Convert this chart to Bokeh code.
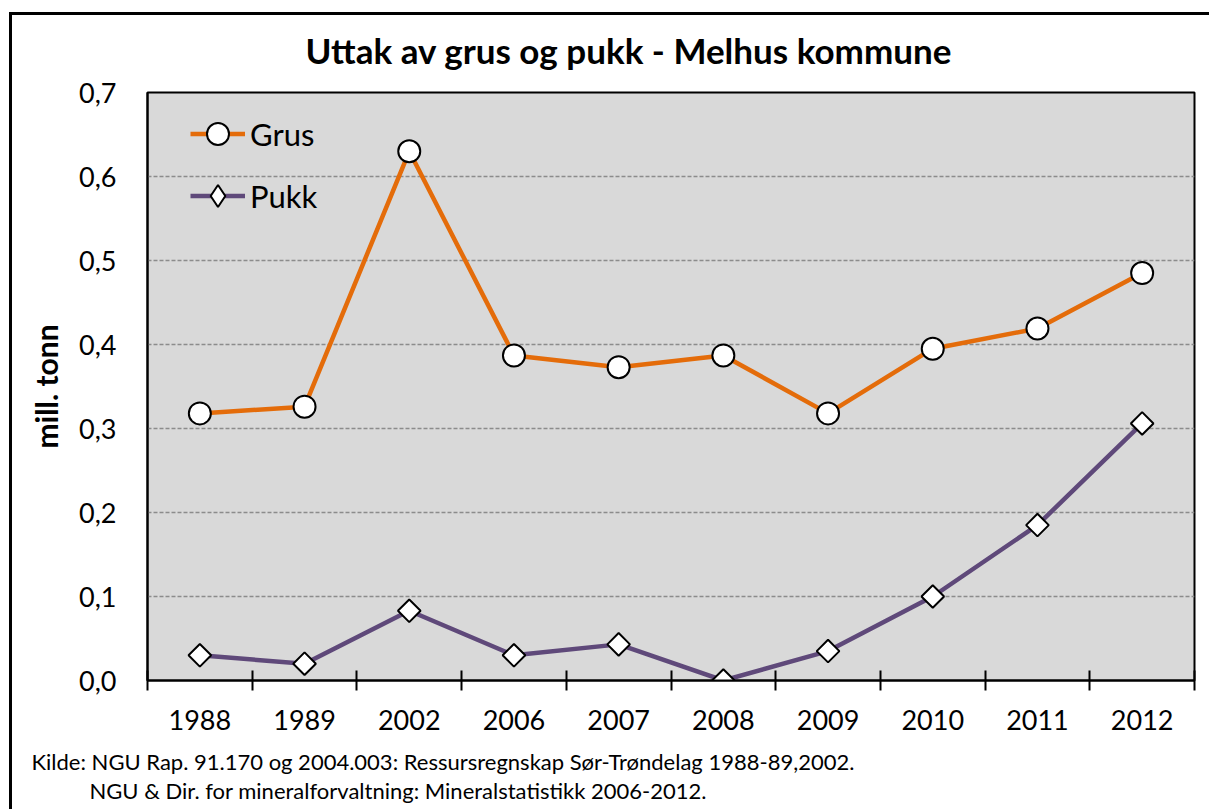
import numpy as np
from bokeh.plotting import figure
from bokeh.models import (FactorRange, Range1d, LinearAxis, FixedTicker,
                          CustomJSTickFormatter, Legend, LegendItem, Title)
from bokeh.embed import file_html
from bokeh.resources import INLINE

# ---------------- data ----------------
years = ["1988", "1989", "2002", "2006", "2007", "2008", "2009", "2010", "2011", "2012"]
grus = [0.318, 0.326, 0.630, 0.387, 0.373, 0.387, 0.318, 0.395, 0.419, 0.485]
pukk = [0.030, 0.020, 0.083, 0.030, 0.043, 0.000, 0.035, 0.100, 0.185, 0.306]
y_ticks = [0.0, 0.1, 0.2, 0.3, 0.4, 0.5, 0.6, 0.7]
title_text = "Uttak av grus og pukk - Melhus kommune"
y_label = "mill. tonn"
source_lines = [
    "Kilde: NGU Rap. 91.170 og 2004.003: Ressursregnskap Sør-Trøndelag 1988-89,2002.",
    "NGU & Dir. for mineralforvaltning: Mineralstatistikk 2006-2012.",
]

# ---------------- layout ----------------
W, H = 1209, 809
FL, FR, FT, FB = 147, 1194, 92, 680       # frame edges in canvas px
YMAX = 0.7
n = len(years)
FONT = "Lato"
ORANGE = "#E46C0A"
PURPLE = "#5F497A"

box_css = """
:host { position: relative; }
:host::after {
  content: '';
  position: absolute;
  left: 9px; top: 12px; right: 0px; bottom: 0px;
  border-left: 3px solid black;
  border-top: 3px solid black;
  pointer-events: none;
}
"""

p = figure(width=W, height=H, x_range=FactorRange(factors=years),
           y_range=Range1d(0, YMAX), x_axis_location=None,
           output_backend="svg", toolbar_location=None,
           min_border_left=FL, min_border_right=W - FR,
           min_border_top=FT, min_border_bottom=H - FB,
           background_fill_color="#D9D9D9", border_fill_color="white",
           outline_line_color="black", outline_line_width=2,
           stylesheets=[box_css])

p.xgrid.visible = False
p.ygrid.grid_line_color = "#8C8C8C"
p.ygrid.grid_line_dash = "4 2"
p.ygrid.grid_line_width = 1.5

# title
p.title = Title(text=title_text, align="left", offset=158, standoff=44,
                vertical_align="bottom", text_font=FONT, text_font_style="bold",
                text_font_size="35px", text_color="black")

# y axis
ya = p.yaxis[0]
ya.ticker = FixedTicker(ticks=y_ticks)
ya.formatter = CustomJSTickFormatter(code="return tick.toFixed(1).replace('.', ',')")
ya.major_tick_in = 0
ya.major_tick_out = 0
ya.minor_tick_line_color = None
ya.axis_line_color = "black"
ya.axis_line_width = 2
ya.major_label_text_font = FONT
ya.major_label_text_font_size = "27px"
ya.major_label_text_color = "black"
ya.major_label_standoff = 31
ya.axis_label = y_label
ya.axis_label_text_font = FONT
ya.axis_label_text_font_style = "bold"
ya.axis_label_text_font_size = "30px"
ya.axis_label_text_color = "black"
ya.axis_label_standoff = 12

# x axis: labels centred on categories, tick marks between categories
xa = LinearAxis(
    ticker=FixedTicker(ticks=[i + 0.5 for i in range(n)],
                       minor_ticks=list(range(n + 1))),
    formatter=CustomJSTickFormatter(args=dict(labels=years),
                                    code="return labels[Math.floor(tick)]"),
    major_tick_in=0, major_tick_out=0,
    minor_tick_in=10, minor_tick_out=10,
    minor_tick_line_color="black", minor_tick_line_width=2,
    axis_line_color="black", axis_line_width=2,
    major_label_text_font=FONT, major_label_text_font_size="27px",
    major_label_text_color="black", major_label_standoff=19,
    axis_label=" ", axis_label_text_font_size="1px", axis_label_standoff=9)
p.add_layout(xa, "below")

# source lines below the axis
p.add_layout(Title(text=source_lines[0], align="left", offset=31 - FL,
                   standoff=4, vertical_align="top", text_font=FONT,
                   text_font_size="22px", text_font_style="normal",
                   text_color="black"), "below")
p.add_layout(Title(text=source_lines[1], align="left", offset=89 - FL,
                   standoff=-4, vertical_align="top", text_font=FONT,
                   text_font_size="22px", text_font_style="normal",
                   text_color="black"), "below")

# series
lg = p.line(years, grus, line_color=ORANGE, line_width=4.5)
sg = p.scatter(years, grus, marker="circle", size=22, fill_color="white",
               line_color="black", line_width=2)
lp = p.line(years, pukk, line_color=PURPLE, line_width=4.5)
# diamond used for the legend symbol; hidden under the rotated squares
sp_leg = p.scatter(years, pukk, marker="diamond", size=20, fill_color="white",
                   line_color="black", line_width=2)
sp = p.scatter(years, pukk, marker="square", angle=np.pi / 4, size=16,
               fill_color="white", line_color="black", line_width=2)

leg = Legend(items=[LegendItem(label="Grus", renderers=[lg, sg]),
                    LegendItem(label="Pukk", renderers=[lp, sp_leg])],
             location=(43, 457), glyph_width=55, glyph_height=55, spacing=7,
             padding=0, margin=0, border_line_color=None,
             background_fill_alpha=0, label_text_font=FONT,
             label_text_font_size="31px", label_text_color="black",
             label_standoff=5)
p.add_layout(leg)

open("out.html", "w").write(file_html(p, INLINE))
